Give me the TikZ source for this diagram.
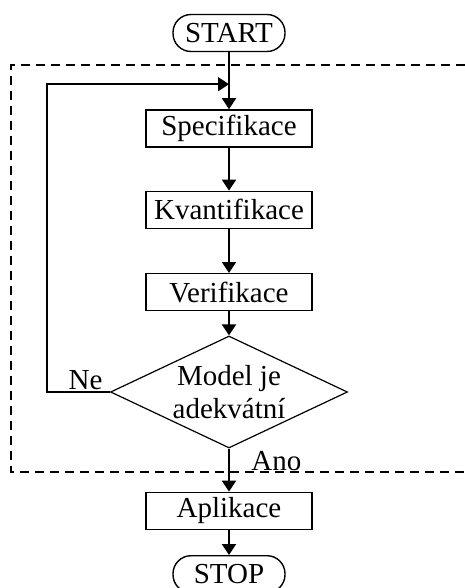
\documentclass[tikz,border=0pt]{standalone}
\usepackage{fontspec}
\setmainfont{Liberation Serif}
\usetikzlibrary{shapes.geometric,arrows.meta,positioning,calc}

\begin{document}
\begin{tikzpicture}[
    x=0.5pt, y=-0.5pt,
    >={Triangle[width=7pt,length=5.5pt]},
    font=\fontsize{14.5}{16.5}\selectfont,
    box/.style={rectangle, draw, line width=0.7pt, minimum width=83pt, minimum height=18.5pt, inner sep=0pt, align=center},
    term/.style={rectangle, draw, line width=0.7pt, rounded corners=9pt, minimum width=56pt, minimum height=18.5pt, inner sep=0pt},
    decision/.style={diamond, draw, line width=0.6pt, aspect=2.1, minimum width=118.5pt, minimum height=56pt, inner sep=0pt, align=center},
    lbl/.style={inner sep=1pt},
    flow/.style={->, line width=1pt}
]
    \useasboundingbox (0,0) rectangle (465,588);

    \node[term] (start) at (229,33) {START};
    \node[box, below=28.5pt of start] (spec) {Specifikace};
    \node[box, below=21.5pt of spec] (kvant) {Kvantifikace};
    \node[box, below=22pt of kvant] (verif) {Verifikace};
    \node[decision, below=12pt of verif] (dec) {Model je\\adekvátní};
    \node[box, below=21.5pt of dec] (apl) {Aplikace};
    \node[term, below=12.5pt of apl] (stop) {STOP};

    \coordinate[above=12.5pt of spec.north] (join);
    \coordinate (corner) at ($(dec.west)+(-31.5pt,0)$);

    % modelovaci cyklus
    \draw[dashed, line width=0.7pt, dash pattern=on 4.5pt off 3pt] (465,65) -- (11,65) -- (11,472) -- (465,472);

    \draw[flow] (start) -- (spec);
    \draw[flow] (spec) -- (kvant);
    \draw[flow] (kvant) -- (verif);
    \draw[flow] (verif) -- (dec);
    \draw[flow] (dec) -- (apl);
    \draw[flow] (apl) -- (stop);
    \draw[flow] (dec.west) -- (corner) |- (join);

    \node[lbl, above left=0pt and 2.5pt of dec.west] (ne) {Ne};
    \node[lbl, below right=0pt and 10pt of dec.south] (ano) {Ano};
\end{tikzpicture}
\end{document}
